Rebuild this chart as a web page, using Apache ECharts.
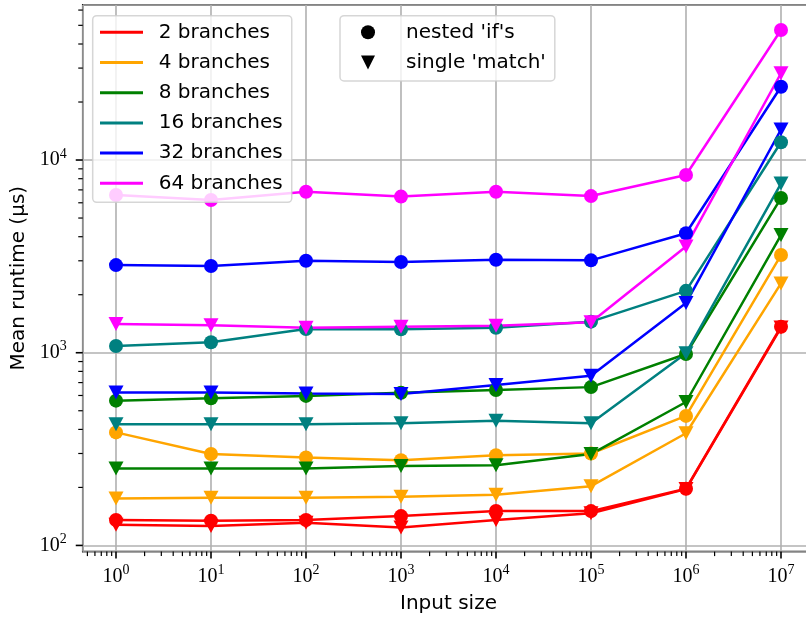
<!DOCTYPE html>
<html>
<head>
<meta charset="utf-8">
<script src="https://cdn.jsdelivr.net/npm/echarts@6/dist/echarts.min.js"></script>
<style>
  html, body { margin: 0; padding: 0; background: #fff; }
  #chart { width: 806px; height: 619px; }
</style>
</head>
<body>
<div id="chart"></div>
<script>
// Input sizes on the x axis (log scale)
const inputSizes = [1, 10, 100, 1e3, 1e4, 1e5, 1e6, 1e7];

// Branch counts, legend labels and colours
const branchLabels = ['2 branches', '4 branches', '8 branches', '16 branches', '32 branches', '64 branches'];
const branchColors = ['#ff0000', '#ffa500', '#008000', '#008080', '#0000ff', '#ff00ff'];

// Mean runtime (µs) with nested 'if's
const nestedIf2  = [135.5, 134.4, 135.5, 142, 151, 150.7, 197, 1365];
const nestedIf4  = [386, 298, 286, 277, 294, 300, 470, 3214];
const nestedIf8  = [564, 580, 597, 620, 641, 663, 985, 6350];
const nestedIf16 = [1084, 1133, 1327, 1322, 1348, 1450, 2095, 12360];
const nestedIf32 = [2850, 2818, 3000, 2956, 3040, 3015, 4170, 24000];
const nestedIf64 = [6580, 6200, 6850, 6460, 6850, 6500, 8360, 47300];

// Mean runtime (µs) with a single 'match'
const match2  = [128, 126, 131, 124, 135.5, 147, 196, 1350];
const match4  = [175, 177, 177, 179, 183, 203, 382, 2290];
const match8  = [251, 251, 251, 258, 261, 298, 555, 4080];
const match16 = [425, 425, 425, 431, 444, 431, 994, 7550];
const match32 = [622, 622, 615, 611, 680, 760, 1810, 14400];
const match64 = [1410, 1387, 1349, 1365, 1380, 1438, 3560, 28200];

const nestedIfRuns = [nestedIf2, nestedIf4, nestedIf8, nestedIf16, nestedIf32, nestedIf64];
const matchRuns = [match2, match4, match8, match16, match32, match64];

const styleLabels = ["nested 'if's", "single 'match'"];

// Axis extents (log10 padding around the data)
const X_MIN = Math.pow(10, -0.35);
const X_MAX = Math.pow(10, 7.35);
const Y_MIN = Math.pow(10, 1.968);
const Y_MAX = Math.pow(10, 4.805);

const SANS = 'DejaVu Sans';
const SERIF = 'Liberation Serif';
const TRIANGLE_DOWN = 'path://M-1,-1L1,-1L0,1Z';

function pairs(values) {
  return inputSizes.map((x, i) => [x, values[i]]);
}

function powerLabel(v) {
  const e = Math.log10(v);
  const r = Math.round(e);
  if (Math.abs(e - r) > 1e-6) return '';
  return '{b|10}{s|' + r + '}';
}

const labelRich = {
  b: { fontFamily: SERIF, fontSize: 20, lineHeight: 26, color: '#000' },
  s: { fontFamily: SERIF, fontSize: 14, lineHeight: 14, verticalAlign: 'top', color: '#000' }
};

// Major and minor tick marks of both log axes: [x, y, length, width, axisFlag]
const tickMarks = [];
for (let e = -1; e <= 7; e++) {
  for (let m = 1; m <= 9; m++) {
    const v = m * Math.pow(10, e);
    if (v < X_MIN || v > X_MAX) continue;
    tickMarks.push([v, Y_MIN, m === 1 ? 7 : 4.5, m === 1 ? 1.6 : 1.2, 0]);
  }
}
for (let e = 1; e <= 4; e++) {
  for (let m = 1; m <= 9; m++) {
    const v = m * Math.pow(10, e);
    if (v < Y_MIN || v > Y_MAX) continue;
    tickMarks.push([X_MIN, v, m === 1 ? 7 : 4.5, m === 1 ? 1.6 : 1.2, 1]);
  }
}

const series = [];
branchLabels.forEach((name, i) => {
  series.push({
    name: name,
    type: 'line',
    data: pairs(matchRuns[i]),
    symbol: TRIANGLE_DOWN,
    symbolSize: [15, 14],
    showAllSymbol: true,
    color: branchColors[i],
    lineStyle: { width: 2.5, color: branchColors[i] },
    itemStyle: { color: branchColors[i] },
    emphasis: { disabled: true },
    z: 3
  });
  series.push({
    name: name,
    type: 'line',
    data: pairs(nestedIfRuns[i]),
    symbol: 'circle',
    symbolSize: 14,
    showAllSymbol: true,
    color: branchColors[i],
    lineStyle: { width: 2.5, color: branchColors[i] },
    itemStyle: { color: branchColors[i] },
    emphasis: { disabled: true },
    z: 3
  });
});

// Marker-style keys for the second legend
styleLabels.forEach((name, k) => {
  series.push({
    name: name,
    type: 'line',
    data: [],
    symbol: k === 0 ? 'circle' : TRIANGLE_DOWN,
    color: '#000',
    itemStyle: { color: '#000' }
  });
});

series.push({
  type: 'custom',
  silent: true,
  z: 10,
  clip: false,
  encode: { x: 0, y: 1 },
  data: tickMarks,
  renderItem: function (params, api) {
    const p = api.coord([api.value(0), api.value(1)]);
    const len = api.value(2);
    const w = api.value(3);
    const isY = api.value(4) === 1;
    return {
      type: 'line',
      shape: isY
        ? { x1: p[0], y1: p[1], x2: p[0] - len, y2: p[1] }
        : { x1: p[0], y1: p[1], x2: p[0], y2: p[1] + len },
      style: { stroke: '#000', lineWidth: w }
    };
  }
});

const chart = echarts.init(document.getElementById('chart'), null, { renderer: 'canvas' });
chart.setOption({
  animation: false,
  backgroundColor: '#fff',
  grid: {
    left: 82.75, top: 4.9, width: 731.5, height: 546.7,
    containLabel: false,
    outerBoundsMode: 'none',
    show: true, borderColor: '#000', borderWidth: 1.6, backgroundColor: 'transparent'
  },
  xAxis: {
    type: 'log',
    logBase: 10,
    min: X_MIN,
    max: X_MAX,
    splitNumber: 8,
    name: 'Input size',
    nameLocation: 'middle',
    nameGap: 42,
    nameTextStyle: { fontFamily: SANS, fontSize: 20, color: '#000' },
    axisLine: { show: false },
    axisTick: { show: false },
    axisLabel: {
      margin: 12,
      formatter: powerLabel,
      rich: labelRich,
      showMinLabel: false,
      showMaxLabel: false
    },
    splitLine: { show: true, lineStyle: { color: '#b0b0b0', width: 1.6 } },
    minorTick: { show: false },
    minorSplitLine: { show: false }
  },
  yAxis: {
    type: 'log',
    logBase: 10,
    min: Y_MIN,
    max: Y_MAX,
    splitNumber: 3,
    name: 'Mean runtime (µs)',
    nameLocation: 'middle',
    nameGap: 52,
    nameRotate: 90,
    nameTextStyle: { fontFamily: SANS, fontSize: 20, color: '#000' },
    axisLine: { show: false },
    axisTick: { show: false },
    axisLabel: {
      margin: 16,
      formatter: powerLabel,
      rich: labelRich,
      showMinLabel: false,
      showMaxLabel: false
    },
    splitLine: { show: true, lineStyle: { color: '#b0b0b0', width: 1.6 } }
  },
  legend: [
    {
      data: branchLabels.map(n => ({ name: n, icon: 'rect' })),
      orient: 'vertical',
      left: 92.7,
      top: 15.7,
      padding: [6.6, 9, 9, 7.3],
      itemWidth: 43,
      itemHeight: 3,
      itemGap: 10.2,
      selectedMode: false,
      backgroundColor: 'rgba(255,255,255,0.8)',
      borderColor: 'rgba(204,204,204,0.8)',
      borderWidth: 1.5,
      borderRadius: 4,
      textStyle: { fontFamily: SANS, fontSize: 20, lineHeight: 20, color: '#000', padding: [0, 0, 0, 10.7] },
      z: 20
    },
    {
      data: [
        { name: styleLabels[0], icon: 'circle' },
        { name: styleLabels[1], icon: TRIANGLE_DOWN }
      ],
      orient: 'vertical',
      left: 340,
      top: 15.7,
      padding: [6.6, 9, 8.5, 21],
      itemWidth: 14,
      itemHeight: 14,
      itemGap: 10.2,
      selectedMode: false,
      backgroundColor: 'rgba(255,255,255,0.8)',
      borderColor: 'rgba(204,204,204,0.8)',
      borderWidth: 1.5,
      borderRadius: 4,
      textStyle: { fontFamily: SANS, fontSize: 20, lineHeight: 20, color: '#000', padding: [0, 0, 0, 26] },
      z: 20
    }
  ],
  series: series
});
</script>
</body>
</html>
